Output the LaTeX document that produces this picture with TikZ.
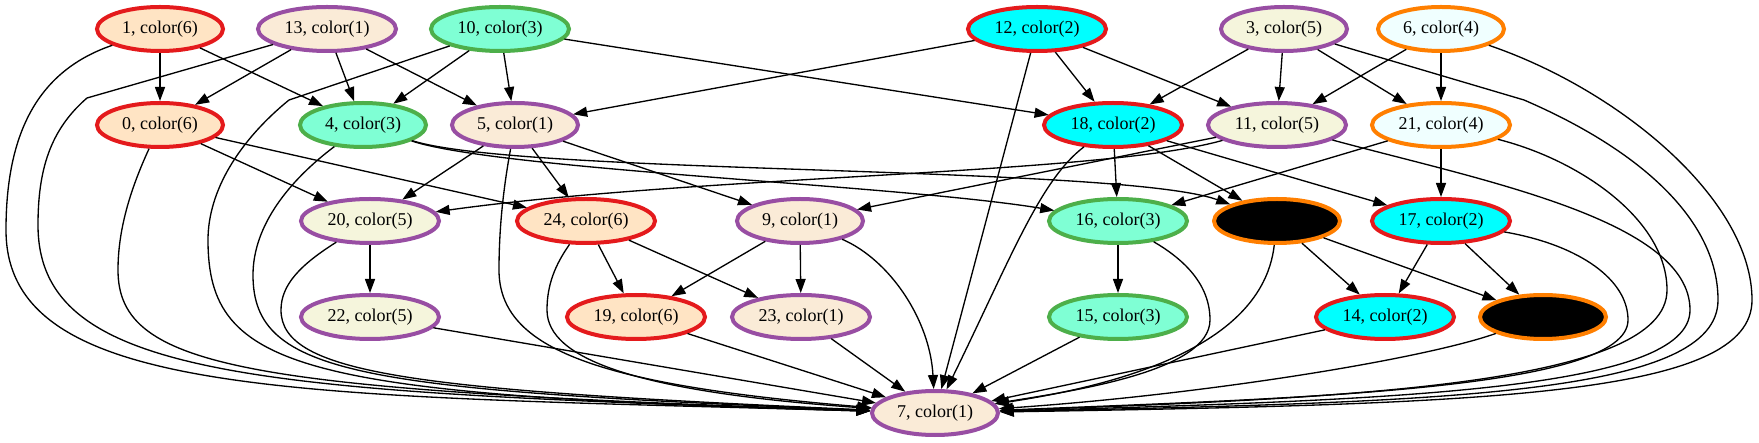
\documentclass[tikz,border=0pt]{standalone}
\usepackage{fontspec}
\setmainfont{Liberation Serif}
\usepackage{tikz}
\usetikzlibrary{arrows.meta}
\usetikzlibrary{shapes.geometric}
\definecolor{bisque}{RGB}{255, 228, 196}
\definecolor{antique}{RGB}{250, 235, 215}
\definecolor{aquamarine}{RGB}{127, 255, 212}
\definecolor{electric}{RGB}{0, 255, 255}
\definecolor{beige}{RGB}{245, 245, 220}
\definecolor{azure}{RGB}{240, 255, 255}
\definecolor{crimson}{RGB}{228, 26, 28}
\definecolor{amethyst}{RGB}{152, 78, 163}
\definecolor{fern}{RGB}{77, 175, 74}
\definecolor{tangerine}{RGB}{255, 127, 0}

\begin{document}
\begin{tikzpicture}[x=1pt, y=-1pt,
        vert/.style={ellipse, line width=4pt, inner sep=0pt, minimum width=126pt, minimum height=44pt, font=\fontsize{18}{21}\selectfont},
        wide/.style={vert, minimum width=138pt},
        c1/.style={fill=antique,    draw=amethyst},
        c2/.style={fill=electric,   draw=crimson},
        c3/.style={fill=aquamarine, draw=fern},
        c4/.style={fill=azure,      draw=tangerine},
        c5/.style={fill=beige,      draw=amethyst},
        c6/.style={fill=bisque,     draw=crimson},
        cx/.style={fill=black,      draw=tangerine},
        wire/.style={line width=1.33pt, -{Triangle[length=14pt, width=10pt]}}]
            \useasboundingbox (0,0) rectangle (1759,443);
            % top row
            \node[vert, c6] (v1)  at ( 160,  29) {1, color(6)};
            \node[wide, c1] (v13) at ( 327,  29) {13, color(1)};
            \node[wide, c3] (v10) at ( 500,  29) {10, color(3)};
            \node[wide, c2] (v12) at (1037,  29) {12, color(2)};
            \node[vert, c5] (v3)  at (1284,  29) {3, color(5)};
            \node[vert, c4] (v6)  at (1441,  29) {6, color(4)};
            % second row
            \node[vert, c6] (v0)  at ( 160, 125) {0, color(6)};
            \node[vert, c3] (v4)  at ( 363, 125) {4, color(3)};
            \node[vert, c1] (v5)  at ( 515, 125) {5, color(1)};
            \node[wide, c2] (v18) at (1113, 125) {18, color(2)};
            \node[wide, c5] (v11) at (1277, 125) {11, color(5)};
            \node[wide, c4] (v21) at (1441, 125) {21, color(4)};
            % third row
            \node[wide, c5] (v20) at ( 370, 221) {20, color(5)};
            \node[wide, c6] (v24) at ( 586, 221) {24, color(6)};
            \node[vert, c1] (v9)  at ( 800, 221) {9, color(1)};
            \node[wide, c3] (v16) at (1118, 221) {16, color(3)};
            \node[vert, cx] (v2)  at (1277, 221) {};
            \node[wide, c2] (v17) at (1441, 221) {17, color(2)};
            % fourth row
            \node[wide, c5] (v22) at ( 370, 317) {22, color(5)};
            \node[wide, c6] (v19) at ( 636, 317) {19, color(6)};
            \node[wide, c1] (v23) at ( 801, 317) {23, color(1)};
            \node[wide, c3] (v15) at (1118, 317) {15, color(3)};
            \node[wide, c2] (v14) at (1385, 317) {14, color(2)};
            \node[vert, cx] (v8)  at (1543, 317) {};
            % sink
            \node[vert, c1] (v7)  at ( 935, 413) {7, color(1)};

            % straight connectors
            \draw[wire] (v1)  -- (v0);
            \draw[wire] (v1)  -- (v4);
            \draw[wire] (v13) -- (v0);
            \draw[wire] (v13) -- (v4);
            \draw[wire] (v13) -- (v5);
            \draw[wire] (v10) -- (v4);
            \draw[wire] (v10) -- (v5);
            \draw[wire] (v10) -- (v18);
            \draw[wire] (v12) -- (v5);
            \draw[wire] (v12) -- (v18);
            \draw[wire] (v12) -- (v11);
            \draw[wire] (v12) -- (v7);
            \draw[wire] (v3)  -- (v18);
            \draw[wire] (v3)  -- (v11);
            \draw[wire] (v3)  -- (v21);
            \draw[wire] (v6)  -- (v11);
            \draw[wire] (v6)  -- (v21);
            \draw[wire] (v0)  -- (v20);
            \draw[wire] (v0)  -- (v24);
            \draw[wire] (v5)  -- (v20);
            \draw[wire] (v5)  -- (v24);
            \draw[wire] (v5)  -- (v9);
            \draw[wire] (v18) -- (v16);
            \draw[wire] (v18) -- (v2);
            \draw[wire] (v18) -- (v17);
            \draw[wire] (v11) -- (v9);
            \draw[wire] (v21) -- (v16);
            \draw[wire] (v21) -- (v17);
            \draw[wire] (v20) -- (v22);
            \draw[wire] (v24) -- (v19);
            \draw[wire] (v24) -- (v23);
            \draw[wire] (v9)  -- (v19);
            \draw[wire] (v9)  -- (v23);
            \draw[wire] (v16) -- (v15);
            \draw[wire] (v2)  -- (v14);
            \draw[wire] (v2)  -- (v8);
            \draw[wire] (v17) -- (v14);
            \draw[wire] (v17) -- (v8);
            \draw[wire] (v22) -- (v7);
            \draw[wire] (v19) -- (v7);
            \draw[wire] (v23) -- (v7);
            \draw[wire] (v15) -- (v7);
            \draw[wire] (v14) -- (v7);

            % long bent connectors
            \draw[wire] (v4)  .. controls ( 520, 175) and (1120, 165) .. (v2);
            \draw[wire] (v4)  .. controls ( 500, 170) and ( 900, 185) .. (v16);
            \draw[wire] (v11) .. controls (1100, 175) and ( 700, 175) .. (v20);
            \draw[wire] (v9)  .. controls ( 890, 260) and ( 930, 320) .. (v7);
            \draw[wire] (v18) .. controls (1040, 180) and (1010, 260) .. (v7);
            \draw[wire] (v2)  .. controls (1268, 300) and (1220, 370) .. (v7);
            \draw[wire] (v8)  .. controls (1420, 360) and (1200, 395) .. (v7);

            % sweeps round the left side
            \draw[wire] (v1)  .. controls (  40,  70) and (   6, 130) .. (   6, 230) .. controls (   6, 400) and ( 300, 395) .. (v7);
            \draw[wire] (v13) -- (  87,  98) .. controls (  50, 130) and (  38, 170) .. (  38, 225) .. controls (  38, 380) and ( 260, 392) .. (v7);
            \draw[wire] (v0)  .. controls ( 130, 190) and ( 118, 230) .. ( 118, 270) .. controls ( 118, 370) and ( 250, 390) .. (v7);
            \draw[wire] (v10) -- ( 289, 100) .. controls ( 240, 140) and ( 208, 190) .. ( 208, 240) .. controls ( 208, 370) and ( 300, 395) .. (v7);
            \draw[wire] (v4)  .. controls ( 290, 180) and ( 253, 225) .. ( 253, 275) .. controls ( 253, 375) and ( 360, 390) .. (v7);
            \draw[wire] (v20) .. controls ( 300, 265) and ( 281, 285) .. ( 281, 310) .. controls ( 281, 375) and ( 420, 390) .. (v7);
            \draw[wire] (v5)  .. controls ( 503, 190) and ( 499, 230) .. ( 499, 270) .. controls ( 499, 350) and ( 600, 385) .. (v7);
            \draw[wire] (v24) .. controls ( 555, 265) and ( 547, 285) .. ( 547, 310) .. controls ( 547, 360) and ( 640, 392) .. (v7);

            % sweeps round the right side
            \draw[wire] (v16) .. controls (1185, 260) and (1210, 285) .. (1210, 320) .. controls (1210, 370) and (1080, 390) .. (v7);
            \draw[wire] (v17) .. controls (1580, 245) and (1628, 280) .. (1628, 320) .. controls (1628, 390) and (1300, 398) .. (v7);
            \draw[wire] (v21) .. controls (1580, 160) and (1667, 220) .. (1667, 290) .. controls (1667, 385) and (1350, 398) .. (v7);
            \draw[wire] (v11) .. controls (1480, 180) and (1690, 220) .. (1690, 310) .. controls (1690, 390) and (1400, 400) .. (v7);
            \draw[wire] (v3)  -- (1524, 100) .. controls (1640, 150) and (1718, 220) .. (1718, 300) .. controls (1718, 395) and (1450, 402) .. (v7);
            \draw[wire] (v6)  .. controls (1620,  90) and (1752, 200) .. (1752, 300) .. controls (1752, 395) and (1500, 404) .. (v7);
\end{tikzpicture}
\end{document}
